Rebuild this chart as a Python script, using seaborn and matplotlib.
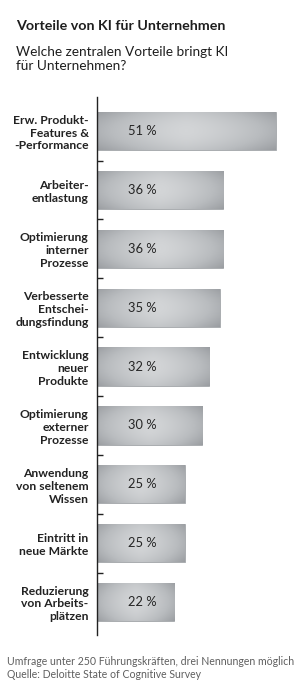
import numpy as np
import pandas as pd
import seaborn as sns
import matplotlib.pyplot as plt
from matplotlib.colors import LinearSegmentedColormap

# Daten
labels = ["Erw. Produkt-\nFeatures &\n-Performance", "Arbeiter-\nentlastung",
          "Optimierung\ninterner\nProzesse", "Verbesserte\nEntschei-\ndungsfindung",
          "Entwicklung\nneuer\nProdukte", "Optimierung\nexterner\nProzesse",
          "Anwendung\nvon seltenem\nWissen", "Eintritt in\nneue Märkte",
          "Reduzierung\nvon Arbeits-\nplätzen"]
values = [51, 36, 36, 35, 32, 30, 25, 25, 22]

title = "Vorteile von KI für Unternehmen"
subtitle = "Welche zentralen Vorteile bringt KI\nfür Unternehmen?"
footer = "Umfrage unter 250 Führungskräften, drei Nennungen möglich\nQuelle: Deloitte State of Cognitive Survey"

sns.set_theme(style="white")
plt.rcParams['font.family'] = ['Lato', 'DejaVu Sans']

fig = plt.figure(figsize=(3.0, 6.88), dpi=100)
ax = fig.add_axes([97 / 300, 1 - 635 / 688, 193 / 300, 538 / 688])

df = pd.DataFrame({"Vorteil": labels, "Anteil": values})
sns.barplot(data=df, x="Anteil", y="Vorteil", color="#b0b3b6", width=0.65,
            edgecolor="#a3a6aa", linewidth=0.6, ax=ax)

# Verlauf in den Balken
cmap = LinearSegmentedColormap.from_list("bar", ["#979a9e", "#b9bcbf", "#d3d5d7"])
u = np.linspace(-1, 1, 200)
v = np.linspace(-1, 1, 40)
U, V = np.meshgrid(u, v)
grad = 1 - 0.65 * np.abs(U) ** 1.4 - 0.3 * V ** 2
for p in ax.patches:
    x0, y0 = p.get_x(), p.get_y()
    w, h = p.get_width(), p.get_height()
    im = ax.imshow(grad, cmap=cmap, vmin=0, vmax=1, aspect="auto",
                   extent=[x0, x0 + w, y0 + h, y0], zorder=p.get_zorder() + 0.1)
    im.set_clip_path(p)

for i, v_ in enumerate(values):
    ax.text(12.8, i, f"{v_} %", ha="center", va="center", fontsize=9.3,
            color="#252525", zorder=5)

ax.set_xlim(0, 55)
ax.set_ylim(len(values) - 1 + 0.56, -0.58)
ax.set_xlabel("")
ax.set_ylabel("")
ax.set_xticks([])
ax.set_yticks(range(len(labels)))
ax.set_yticklabels(labels, fontsize=8.7, fontweight="bold", color="#222222", linespacing=1.2)
ax.set_yticks(np.arange(0.5, len(labels) - 1, 1), minor=True)
ax.tick_params(axis="y", which="major", length=0, pad=6)
ax.tick_params(axis="y", which="minor", length=4, width=1, direction="in", color="#222222", left=True)
for s in ["top", "right", "bottom"]:
    ax.spines[s].set_visible(False)
ax.spines["left"].set_color("#222222")
ax.spines["left"].set_linewidth(1)

fig.text(16 / 300, 1 - 26 / 688, title, fontsize=10.3, fontweight="bold", color="#1e1e1e", va="center")
fig.text(16 / 300, 1 - 59 / 688, subtitle, fontsize=9.8, color="#1e1e1e", va="center", linespacing=1.2)
fig.text(7 / 300, 1 - 668 / 688, footer, fontsize=7.6, color="#5f5f5f", va="center", linespacing=1.15)

fig.savefig("out.png", dpi=100)
